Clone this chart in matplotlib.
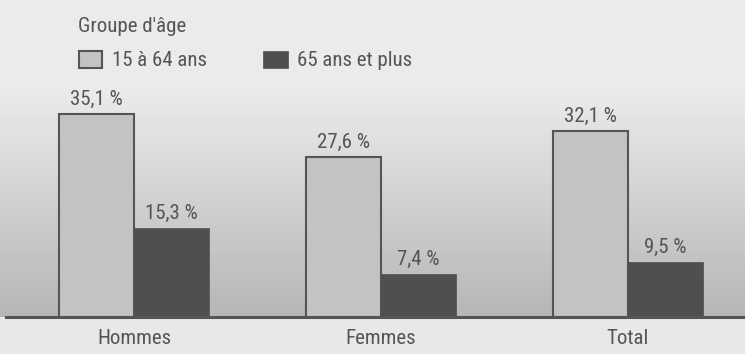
import numpy as np
from matplotlib import pyplot as plt
from matplotlib.patches import Rectangle

plt.rcParams['font.family'] = ['Roboto Condensed', 'Liberation Sans', 'DejaVu Sans']

categories = ['Hommes', 'Femmes', 'Total']
age_15_64 = [35.1, 27.6, 32.1]
age_65_plus = [15.3, 7.4, 9.5]
series_names = ['15 à 64 ans', '65 ans et plus']
legend_title = "Groupe d'âge"

light = '#c3c3c3'
dark = '#4f4f4f'
edge = '#555555'
txt = '#555555'
fs = 15

W, H = 745, 354
f = plt.figure(figsize=[W / 100, H / 100], dpi=100)

# background gradient
bg = f.add_axes([0, 0, 1, 1])
base_px = 317
rows = np.arange(H)
vals = np.where(rows < base_px,
                0.92 - 0.21 * np.clip((rows - 90) / (base_px - 90), 0, 1),
                0.91)
img = np.repeat(vals[:, None], 10, axis=1)
bg.imshow(img, cmap='gray', vmin=0, vmax=1, aspect='auto', extent=[0, 1, 0, 1])
bg.set_axis_off()

# main axes
ax = f.add_axes([6 / W, (H - base_px) / H, 1 - 6 / W, base_px / H])
ax.patch.set_alpha(0)
x = np.arange(len(categories))
w = 0.302
b1 = ax.bar(x - w / 2, age_15_64, w, color=light, edgecolor=edge, linewidth=1.5)
b2 = ax.bar(x + w / 2, age_65_plus, w, color=dark, edgecolor=dark, linewidth=0.5)
for bars, vs in [(b1, age_15_64), (b2, age_65_plus)]:
  for r, v in zip(bars, vs):
    ax.annotate(('%.1f %%' % v).replace('.', ','), (r.get_x() + r.get_width() / 2, v),
                xytext=(0, 4), textcoords='offset points', ha='center', va='bottom',
                fontsize=fs, color=txt)
ax.set_xlim(-0.518, 2.474)
ax.set_ylim(0, 54.8)
for s in ['top', 'right', 'left']:
  ax.spines[s].set_visible(False)
ax.spines['bottom'].set_color('#555555')
ax.spines['bottom'].set_linewidth(2.2)
ax.set_yticks([])
ax.set_xticks(x)
ax.set_xticklabels(categories, fontsize=fs, color=txt)
ax.tick_params(axis='x', length=0, pad=9)

# legend
f.text(78 / W, 1 - 27 / H, legend_title, fontsize=fs, color=txt, va='center', ha='left')
f.add_artist(Rectangle((79 / W, 1 - 68 / H), 23 / W, 17 / H, transform=f.transFigure,
                       facecolor=light, edgecolor=edge, linewidth=1.5))
f.text(112 / W, 1 - 60 / H, series_names[0], fontsize=fs, color=txt, va='center', ha='left')
f.add_artist(Rectangle((263 / W, 1 - 68 / H), 25 / W, 17 / H, transform=f.transFigure,
                       facecolor=dark, edgecolor=dark, linewidth=0.5))
f.text(297 / W, 1 - 60 / H, series_names[1], fontsize=fs, color=txt, va='center', ha='left')

plt.savefig('out.png', dpi=100)
